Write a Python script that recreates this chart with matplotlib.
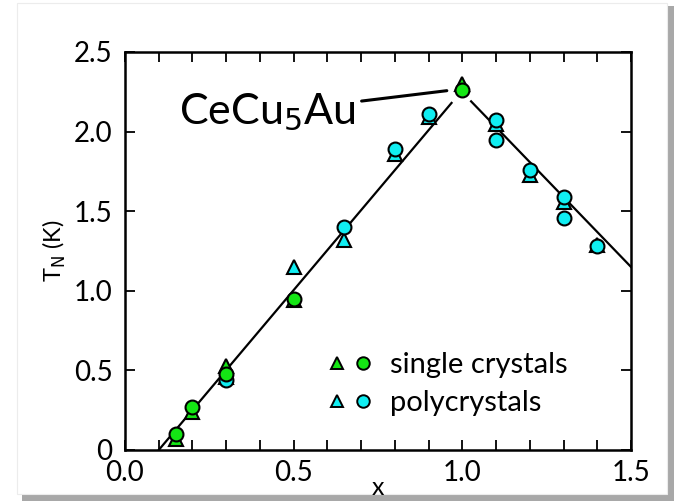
import numpy as np
import matplotlib
matplotlib.use('Agg')
import matplotlib.pyplot as plt
from matplotlib.patches import Rectangle
from matplotlib.legend_handler import HandlerTuple
from matplotlib.lines import Line2D

plt.rcParams['font.family'] = ['Lato', 'DejaVu Sans']

# single crystals
sc_x_circ = [0.15, 0.2, 0.3, 0.5, 1.0]
sc_y_circ = [0.10, 0.27, 0.48, 0.95, 2.26]
sc_x_tri = [0.15, 0.2, 0.3, 0.5, 1.0]
sc_y_tri = [0.07, 0.24, 0.53, 0.94, 2.30]

# polycrystals
pc_x_circ = [0.3, 0.65, 0.8, 0.9, 1.1, 1.1, 1.2, 1.3, 1.3, 1.4]
pc_y_circ = [0.44, 1.40, 1.89, 2.11, 2.07, 1.95, 1.76, 1.59, 1.455, 1.28]
pc_x_tri = [0.3, 0.5, 0.65, 0.8, 0.9, 1.1, 1.2, 1.3, 1.4]
pc_y_tri = [0.46, 1.15, 1.32, 1.86, 2.09, 2.05, 1.73, 1.56, 1.29]

# guide lines
left_x = [0.1, 0.968]
left_y = [0.0, 2.18]
right_x = [1.026, 1.5]
right_y = [2.19, 1.15]

green = '#14e614'
cyan = '#10eef2'

fig = plt.figure(figsize=(6.74, 5.01), dpi=100)

# card with drop shadow
fig.patches.append(Rectangle((22 / 674, 0.0), 652 / 674, 495 / 501, transform=fig.transFigure,
                             facecolor='#a8a8a8', edgecolor='none', zorder=-3))
fig.patches.append(Rectangle((17 / 674, 7 / 501), 650 / 674, 491 / 501, transform=fig.transFigure,
                             facecolor='white', edgecolor='#ececec', lw=0.8, zorder=-2))

ax = fig.add_axes([125 / 674, 51 / 501, 506 / 674, 398 / 501])
ax.set_facecolor('white')

ax.plot(left_x, left_y, color='black', lw=1.6, zorder=2)
ax.plot(right_x, right_y, color='black', lw=1.6, zorder=2)

mk = dict(linestyle='none', markeredgecolor='black', markeredgewidth=1.5, markersize=10)
ax.plot(pc_x_tri, pc_y_tri, marker='^', markerfacecolor=cyan, zorder=3, **mk)
ax.plot(pc_x_circ, pc_y_circ, marker='o', markerfacecolor=cyan, zorder=4, **mk)
ax.plot(sc_x_tri, sc_y_tri, marker='^', markerfacecolor=green, zorder=5, **mk)
ax.plot(sc_x_circ, sc_y_circ, marker='o', markerfacecolor=green, zorder=6, **mk)

ax.annotate('CeCu$_5$Au', xy=(0.954, 2.257), xytext=(0.685, 2.12),
            fontsize=31, ha='right', va='center',
            arrowprops=dict(arrowstyle='-', color='black', lw=2.2, shrinkA=2, shrinkB=0))

ax.set_xlim(0, 1.5)
ax.set_ylim(0, 2.5)
ax.set_xticks(np.arange(0, 1.51, 0.1), minor=True)
ax.set_xticks([0.0, 0.5, 1.0, 1.5])
ax.set_xticklabels(['0.0', '0.5', '1.0', '1.5'])
ax.set_yticks([0, 0.5, 1.0, 1.5, 2.0, 2.5])
ax.set_yticklabels(['0', '0.5', '1.0', '1.5', '2.0', '2.5'])
ax.tick_params(which='both', direction='in', top=True, right=True, width=1.3, length=7,
               labelsize=20, colors='black')
ax.tick_params(axis='x', pad=7)
ax.tick_params(axis='y', pad=9)
for s in ax.spines.values():
    s.set_linewidth(1.8)

ax.set_xlabel('x', fontsize=18, labelpad=-7)
ax.set_ylabel('T$_{\\rm N}$ (K)', fontsize=17, labelpad=4)

lmk = dict(linestyle='none', markeredgecolor='black', markeredgewidth=1.4, markersize=9)
h_sc = (Line2D([], [], marker='^', markerfacecolor=green, **lmk),
        Line2D([], [], marker='o', markerfacecolor=green, **lmk))
h_pc = (Line2D([], [], marker='^', markerfacecolor=cyan, **lmk),
        Line2D([], [], marker='o', markerfacecolor=cyan, **lmk))
ax.legend([h_sc, h_pc], ['single crystals', 'polycrystals'],
          handler_map={tuple: HandlerTuple(ndivide=None, pad=0.3)},
          loc='center left', bbox_to_anchor=(0.35, 0.165), frameon=False,
          fontsize=21, handlelength=1.5, handletextpad=0.6, labelspacing=0.4)

fig.savefig('out.png', dpi=100, facecolor='white')
